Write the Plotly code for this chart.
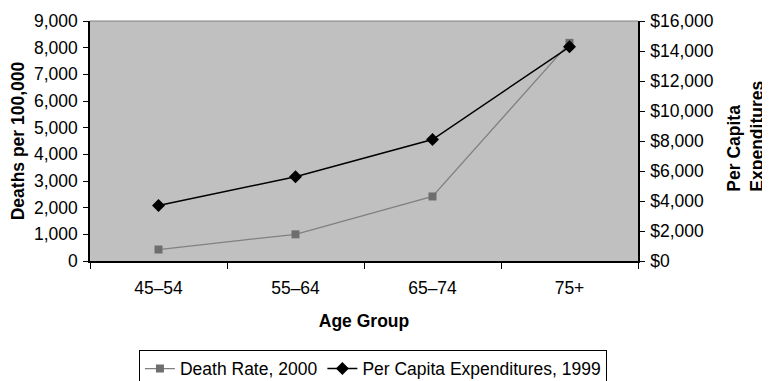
import plotly.graph_objects as go

age_groups = ["45–54", "55–64", "65–74", "75+"]
death_rate_2000 = [430, 1000, 2420, 8180]
per_capita_exp_1999 = [3700, 5620, 8100, 14280]

left_ticks = list(range(0, 9001, 1000))
left_labels = [f"{v:,}" for v in left_ticks]
right_ticks = list(range(0, 16001, 2000))
right_labels = [f"${v:,}" for v in right_ticks]
boundaries = [-0.5, 0.5, 1.5, 2.5, 3.5]

font = "Liberation Sans, Arial, sans-serif"
FS = 17.5

fig = go.Figure()
fig.add_trace(go.Scatter(
    x=age_groups, y=death_rate_2000, name="Death Rate, 2000",
    mode="lines+markers",
    line=dict(color="#808080", width=1.3),
    marker=dict(symbol="square", size=8, color="#6e6e6e"),
    yaxis="y",
))
fig.add_trace(go.Scatter(
    x=age_groups, y=per_capita_exp_1999, name="Per Capita Expenditures, 1999",
    mode="lines+markers",
    line=dict(color="#000000", width=1.5),
    marker=dict(symbol="diamond", size=10, color="#000000"),
    yaxis="y2",
))

tick_common = dict(tickcolor="black", showgrid=False, zeroline=False)

fig.update_layout(
    width=762, height=373,
    margin=dict(l=82, r=132, t=13, b=119.5, autoexpand=False),
    paper_bgcolor="white",
    plot_bgcolor="#c0c0c0",
    font=dict(family=font, size=FS, color="black"),
    showlegend=True,
    legend=dict(
        orientation="h", x=0.786, xref="container", xanchor="right",
        y=0.084, yref="container", yanchor="top",
        bordercolor="black", borderwidth=1, bgcolor="white",
        font=dict(size=FS), itemwidth=30, tracegroupgap=0,
    ),
    xaxis=dict(
        type="category", range=[-0.5, 3.5],
        showline=True, linecolor="black", linewidth=1.5,
        ticks="outside", tickson="boundaries", ticklen=6,
        ticklabelstandoff=10,
        title=dict(text="<b>Age Group</b>", font=dict(size=FS), standoff=18),
        **tick_common,
    ),
    xaxis2=dict(
        range=[-0.5, 3.5], tickvals=boundaries, overlaying="x", side="bottom",
        ticks="inside", ticklen=6, showticklabels=False, showline=False,
        **tick_common,
    ),
    yaxis=dict(
        range=[0, 9000], tickvals=left_ticks, ticktext=left_labels,
        showline=True, linecolor="black", linewidth=1.5,
        ticks="outside", ticklen=5, ticklabelstandoff=2,
        title=dict(text="<b>Deaths per 100,000</b>", font=dict(size=FS), standoff=12),
        **tick_common,
    ),
    yaxis2=dict(
        range=[0, 16000], tickvals=right_ticks, ticktext=right_labels,
        overlaying="y", side="right",
        showline=True, linecolor="black", linewidth=1.5,
        ticks="outside", ticklen=5, ticklabelstandoff=2,
        **tick_common,
    ),
    yaxis3=dict(
        range=[0, 9000], tickvals=left_ticks, overlaying="y", side="left",
        ticks="inside", ticklen=5, showticklabels=False, showline=False,
        **tick_common,
    ),
    yaxis4=dict(
        range=[0, 16000], tickvals=right_ticks, overlaying="y", side="right",
        ticks="inside", ticklen=5, showticklabels=False, showline=False,
        **tick_common,
    ),
    annotations=[dict(
        text="<b>Per Capita<br>Expenditures</b>", textangle=-90,
        xref="paper", yref="paper", x=1.197, y=0.522,
        xanchor="center", yanchor="middle", align="left",
        showarrow=False, font=dict(size=FS),
    )],
    shapes=[dict(type="line", xref="x domain", yref="y domain",
                 x0=0, x1=1, y0=1, y1=1, line=dict(color="#808080", width=1))],
)

fig.write_html("out.html")
